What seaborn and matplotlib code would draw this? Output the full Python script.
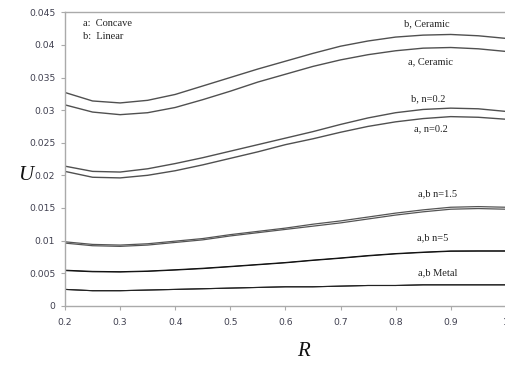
import matplotlib
matplotlib.use("Agg")
import matplotlib.pyplot as plt
import seaborn as sns
import pandas as pd

R = [0.2, 0.25, 0.3, 0.35, 0.4, 0.45, 0.5, 0.55, 0.6, 0.65, 0.7, 0.75, 0.8, 0.85, 0.9, 0.95, 1.0]

b_ceramic = [0.0327, 0.0314, 0.0311, 0.0315, 0.0324, 0.0337, 0.0350, 0.0363, 0.0375, 0.0387, 0.0398, 0.0406, 0.0412, 0.0415, 0.0416, 0.0414, 0.0410]
a_ceramic = [0.0308, 0.0297, 0.0293, 0.0296, 0.0304, 0.0316, 0.0329, 0.0343, 0.0355, 0.0367, 0.0377, 0.0385, 0.0391, 0.0395, 0.0396, 0.0394, 0.0390]
b_n02 = [0.0214, 0.0206, 0.0205, 0.0210, 0.0218, 0.0227, 0.0237, 0.0247, 0.0257, 0.0267, 0.0278, 0.0288, 0.0296, 0.0301, 0.0303, 0.0302, 0.0298]
a_n02 = [0.0206, 0.0197, 0.0196, 0.0200, 0.0207, 0.0216, 0.0226, 0.0236, 0.0247, 0.0256, 0.0266, 0.0275, 0.0282, 0.0287, 0.0290, 0.0289, 0.0286]
b_n15 = [0.0098, 0.0094, 0.0093, 0.0095, 0.0099, 0.0103, 0.0109, 0.0114, 0.0119, 0.0125, 0.0130, 0.0136, 0.0142, 0.0147, 0.0151, 0.0152, 0.0151]
a_n15 = [0.0096, 0.0092, 0.0091, 0.0093, 0.0097, 0.0101, 0.0107, 0.0112, 0.0117, 0.0122, 0.0127, 0.0133, 0.0139, 0.0144, 0.0148, 0.0149, 0.0148]
b_n5 = [0.00545, 0.00527, 0.00522, 0.00532, 0.00552, 0.00575, 0.00603, 0.00633, 0.00663, 0.00700, 0.00733, 0.00770, 0.00800, 0.00822, 0.00840, 0.00842, 0.00842]
a_n5 = [0.00538, 0.00520, 0.00516, 0.00526, 0.00546, 0.00568, 0.00597, 0.00627, 0.00657, 0.00694, 0.00727, 0.00763, 0.00794, 0.00816, 0.00834, 0.00836, 0.00836]
b_metal = [0.0025, 0.0023, 0.0023, 0.0024, 0.0025, 0.0026, 0.0027, 0.0028, 0.0029, 0.0029, 0.0030, 0.0031, 0.0031, 0.0032, 0.0032, 0.0032, 0.0032]
a_metal = [0.0025, 0.0023, 0.0023, 0.0024, 0.0025, 0.0026, 0.0027, 0.0028, 0.0029, 0.0029, 0.0030, 0.0031, 0.0031, 0.0032, 0.0032, 0.0032, 0.0032]

x_ticks = [0.2, 0.3, 0.4, 0.5, 0.6, 0.7, 0.8, 0.9, 1.0]
x_ticklabels = ["0.2", "0.3", "0.4", "0.5", "0.6", "0.7", "0.8", "0.9", "1"]
y_ticks = [0, 0.005, 0.01, 0.015, 0.02, 0.025, 0.03, 0.035, 0.04, 0.045]
y_ticklabels = ["0", "0.005", "0.01", "0.015", "0.02", "0.025", "0.03", "0.035", "0.04", "0.045"]

series = [
    ("b, Ceramic", b_ceramic, "#505050", 1.0),
    ("a, Ceramic", a_ceramic, "#505050", 1.0),
    ("b, n=0.2", b_n02, "#505050", 1.0),
    ("a, n=0.2", a_n02, "#505050", 1.0),
    ("b, n=1.5", b_n15, "#555555", 0.9),
    ("a, n=1.5", a_n15, "#555555", 0.9),
    ("b, n=5", b_n5, "#111111", 0.75),
    ("a, n=5", a_n5, "#111111", 0.75),
    ("b, Metal", b_metal, "#222222", 0.8),
    ("a, Metal", a_metal, "#222222", 0.8),
]

sns.set_style("white")
plt.rcParams["font.family"] = ["DejaVu Sans"]

fig = plt.figure(figsize=(5.05, 3.74), dpi=100)
ax = fig.add_axes([65 / 505, 68.3 / 374, 440.8 / 505, 293.4 / 374])

for name, vals, col, lw in series:
    df = pd.DataFrame({"R": R, "U": vals})
    sns.lineplot(data=df, x="R", y="U", ax=ax, color=col, linewidth=lw)

ax.set_xlim(0.2, 1.0)
ax.set_ylim(0, 0.045)
ax.set_xticks(x_ticks)
ax.set_xticklabels(x_ticklabels)
ax.set_yticks(y_ticks)
ax.set_yticklabels(y_ticklabels)
ax.set_xlabel("")
ax.set_ylabel("")
ax.tick_params(axis="both", labelsize=6.7, labelcolor="#404050", color="#aaaaaa",
               length=3, width=0.8, direction="out", bottom=True, left=True)
ax.tick_params(axis="x", pad=6)
ax.tick_params(axis="y", pad=4)
for s in ["left", "top", "bottom"]:
    ax.spines[s].set_color("#aaaaaa")
    ax.spines[s].set_linewidth(1.0)
ax.spines["right"].set_visible(False)

serif = ["Liberation Serif", "DejaVu Serif"]
ax.text(0.04, 0.962, "a:  Concave", transform=ax.transAxes, fontsize=7.5, family=serif, color="#222222", va="center")
ax.text(0.04, 0.918, "b:  Linear", transform=ax.transAxes, fontsize=7.5, family=serif, color="#222222", va="center")

labels = [
    ("b, Ceramic", 427, 24),
    ("a, Ceramic", 430, 62),
    ("b, n=0.2", 428, 99),
    ("a, n=0.2", 431, 129),
    ("a,b n=1.5", 438, 194),
    ("a,b n=5", 433, 238),
    ("a,b Metal", 438, 273),
]
for txt, px, py in labels:
    fig.text(px / 505, 1 - py / 374, txt, fontsize=7.5, family=serif, color="#222222",
             ha="center", va="center")

fig.text(26 / 505, 1 - 176 / 374, "U", fontsize=15, family=serif, style="italic",
         ha="center", va="center", color="#111111")
fig.text(303 / 505, 1 - 352 / 374, "R", fontsize=15, family=serif, style="italic",
         ha="center", va="center", color="#111111")

fig.savefig("out.png", dpi=100)
